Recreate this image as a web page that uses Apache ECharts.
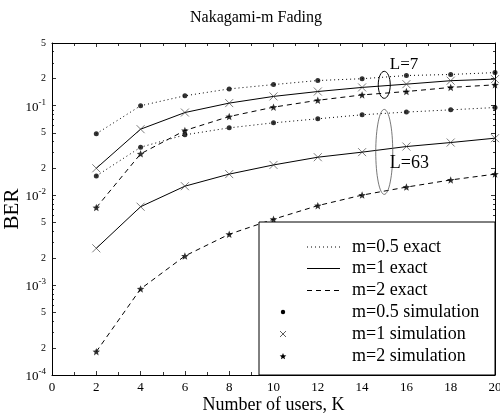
<!DOCTYPE html>
<html>
<head>
<meta charset="utf-8">
<script src="https://cdn.jsdelivr.net/npm/echarts@6/dist/echarts.min.js"></script>
<style>html,body{margin:0;padding:0;background:#fff}#c{width:500px;height:415px}</style>
</head>
<body>
<div id="c"></div>
<script>
// ---- data ----
const users = [2, 4, 6, 8, 10, 12, 14, 16, 18, 20];
const m05_L7  = [0.0487, 0.100, 0.129, 0.154, 0.172, 0.191, 0.200, 0.217, 0.223, 0.234];
const m1_L7   = [0.0201, 0.0548, 0.084, 0.107, 0.127, 0.144, 0.160, 0.174, 0.190, 0.198];
const m2_L7   = [0.00733, 0.0291, 0.053, 0.0758, 0.0964, 0.115, 0.132, 0.144, 0.160, 0.171];
const m05_L63 = [0.0165, 0.0345, 0.0474, 0.0567, 0.0645, 0.0715, 0.0793, 0.085, 0.090, 0.0955];
const m1_L63  = [0.00258, 0.0075, 0.0127, 0.0173, 0.0219, 0.0267, 0.0304, 0.0351, 0.0389, 0.0435];
const m2_L63  = [0.000182, 0.00091, 0.00212, 0.0037, 0.00544, 0.00771, 0.0101, 0.0124, 0.0149, 0.0173];
const xTicks = [0, 2, 4, 6, 8, 10, 12, 14, 16, 18, 20];
const yDecades = [-4, -3, -2, -1];
const yMin = 1e-4, yMax = 0.5;
const legendNames = ['m=0.5 exact', 'm=1 exact', 'm=2 exact', 'm=0.5 simulation', 'm=1 simulation', 'm=2 simulation'];
const titleText = 'Nakagami-m Fading';
const xName = 'Number of users, K';
const yName = 'BER';

const FONT = '"Liberation Serif", "Times New Roman", serif';
const lg = Math.log10;
const pts = arr => users.map((k, i) => [k, lg(arr[i])]);

// y ticks in log space
const majorVals = [], minorVals = [];
yDecades.forEach(d => {
  majorVals.push(d, d + lg(2), d + lg(5));
  [3, 4, 6, 7, 8, 9].forEach(k => minorVals.push(d + lg(k)));
});
majorVals.push(lg(yMax));
const yLo = lg(yMin), yHi = lg(yMax);

const starPath = 'path://M0,-10L2.6,-3.5L9.5,-3.1L4.2,1.3L5.9,8.1L0,4.3L-5.9,8.1L-4.2,1.3L-9.5,-3.1L-2.6,-3.5Z';
const crossPath = 'path://M0,0L10,10M10,0L0,10';

function yLab(v) {
  const e = Math.floor(v + 1e-6);
  const mant = Math.round(Math.pow(10, v - e));
  if (mant === 1) return '{b|10}{s|' + e + '}';
  return '{m|' + mant + '}';
}

const baseY = (pos, vals, len, labels) => ({
  type: 'value', min: yLo, max: yHi, position: pos, gridIndex: 0,
  splitLine: { show: false },
  axisLine: { show: labels, onZero: false, lineStyle: { color: '#000', width: 1 } },
  axisTick: { show: true, inside: true, length: len, customValues: vals, lineStyle: { color: '#000', width: 0.8 } },
  axisLabel: labels ? {
    show: true, customValues: majorVals, formatter: yLab, margin: 6,
    fontFamily: FONT, color: '#000',
    rich: {
      b: { fontSize: 13, fontFamily: FONT, color: '#000', verticalAlign: 'bottom', lineHeight: 16 },
      s: { fontSize: 9, fontFamily: FONT, color: '#000', verticalAlign: 'top', lineHeight: 16 },
      m: { fontSize: 10, fontFamily: FONT, color: '#000' }
    }
  } : { show: false }
});

const lineSeries = (name, arr, type) => ({
  name, type: 'line', data: pts(arr), showSymbol: false, symbol: 'none',
  lineStyle: { color: '#000', width: 1, type }, z: 2, silent: true
});

const chart = echarts.init(document.getElementById('c'), null, { renderer: 'canvas' });
chart.setOption({
  animation: false,
  backgroundColor: '#fff',
  title: {
    text: titleText, left: 185, top: 5,
    textStyle: { fontFamily: FONT, fontSize: 16, fontWeight: 'normal', color: '#000' }
  },
  grid: { left: 52, right: 5, top: 43, bottom: 40, containLabel: false, outerBoundsMode: 'none' },
  xAxis: [
    {
      type: 'value', min: 0, max: 20, interval: 2, position: 'bottom',
      name: xName, nameLocation: 'middle', nameGap: 21, nameMoveOverlap: false,
      nameTextStyle: { fontFamily: FONT, fontSize: 18, color: '#000' },
      splitLine: { show: false },
      axisLine: { onZero: false, lineStyle: { color: '#000', width: 1 } },
      axisTick: { inside: true, length: 4, lineStyle: { color: '#000', width: 0.8 } },
      minorTick: { show: true, splitNumber: 2, length: 3, lineStyle: { color: '#000', width: 0.8 } },
      axisLabel: { fontFamily: FONT, fontSize: 13, color: '#000', margin: 6 }
    },
    {
      type: 'value', min: 0, max: 20, interval: 2, position: 'top',
      splitLine: { show: false },
      axisLine: { onZero: false, lineStyle: { color: '#000', width: 1 } },
      axisTick: { inside: true, length: 4, lineStyle: { color: '#000', width: 0.8 } },
      minorTick: { show: true, splitNumber: 2, length: 3, lineStyle: { color: '#000', width: 0.8 } },
      axisLabel: { show: false }
    }
  ],
  yAxis: [
    Object.assign(baseY('left', majorVals, 4, true), {
      name: yName, nameLocation: 'middle', nameGap: 29, nameRotate: 90, nameMoveOverlap: false,
      nameTextStyle: { fontFamily: FONT, fontSize: 21, color: '#000' }
    }),
    baseY('left', minorVals, 2, false),
    Object.assign(baseY('right', majorVals, 4, false), { axisLine: { show: true, onZero: false, lineStyle: { color: '#000', width: 1 } } }),
    baseY('right', minorVals, 2, false)
  ],
  series: [
    lineSeries(legendNames[0], m05_L7, [1, 3]),
    lineSeries(legendNames[0], m05_L63, [1, 3]),
    lineSeries(legendNames[1], m1_L7, 'solid'),
    lineSeries(legendNames[1], m1_L63, 'solid'),
    lineSeries(legendNames[2], m2_L7, [5, 4]),
    lineSeries(legendNames[2], m2_L63, [5, 4]),
    {
      name: legendNames[3], type: 'scatter', data: pts(m05_L7).concat(pts(m05_L63)),
      symbol: 'circle', symbolSize: 5, itemStyle: { color: '#000' }, z: 3, silent: true
    },
    {
      name: legendNames[4], type: 'scatter', data: pts(m1_L7).concat(pts(m1_L63)),
      symbol: crossPath, symbolSize: 8,
      itemStyle: { color: 'rgba(0,0,0,0)', borderColor: '#333', borderWidth: 0.8 }, z: 3, silent: true
    },
    {
      name: legendNames[5], type: 'scatter', data: pts(m2_L7).concat(pts(m2_L63)),
      symbol: starPath, symbolSize: 7.5, itemStyle: { color: '#000' }, z: 3, silent: true
    }
  ]
});

// ---- annotations & legend (graphic) ----
const px = (x, v) => chart.convertToPixel({ gridIndex: 0 }, [x, lg(v)]);
const c7 = px(15, 0.171);
const c63 = px(15, 0.0306);
const t7 = px(15.25, 0.286);
const t63 = px(15.25, 0.0231);
const txt = (x, y, s, size) => ({
  type: 'text', x, y, z: 20,
  style: { text: s, fontFamily: FONT, fontSize: size, fill: '#000', verticalAlign: 'middle', align: 'left' }
});

const boxL = 259, boxT = 222, boxR = 495, boxB = 375;
const rowY = [247, 268.5, 290.5, 312, 334, 356.5];
const g = [
  { type: 'ellipse', z: 15, shape: { cx: c7[0], cy: c7[1], rx: 6, ry: 13.5 }, style: { fill: 'none', stroke: '#000', lineWidth: 1 } },
  { type: 'ellipse', z: 15, shape: { cx: c63[0], cy: c63[1], rx: 8.5, ry: 42.5 }, style: { fill: 'none', stroke: '#555', lineWidth: 0.8 } },
  txt(t7[0], t7[1], 'L=7', 17),
  txt(t63[0], t63[1], 'L=63', 18),
  { type: 'rect', z: 30, shape: { x: boxL, y: boxT, width: boxR - boxL, height: boxB - boxT }, style: { fill: '#fff', stroke: '#000', lineWidth: 1 } },
  { type: 'line', z: 31, shape: { x1: 307, y1: rowY[0], x2: 340, y2: rowY[0] }, style: { stroke: '#000', lineWidth: 1, lineDash: [1, 3] } },
  { type: 'line', z: 31, shape: { x1: 307, y1: rowY[1], x2: 340, y2: rowY[1] }, style: { stroke: '#000', lineWidth: 1 } },
  { type: 'line', z: 31, shape: { x1: 307, y1: rowY[2], x2: 340, y2: rowY[2] }, style: { stroke: '#000', lineWidth: 1, lineDash: [5, 4] } },
  { type: 'circle', z: 31, shape: { cx: 283, cy: rowY[3], r: 2.2 }, style: { fill: '#000' } },
  { type: 'polyline', z: 31, shape: { points: [[280, rowY[4] - 3], [286, rowY[4] + 3]] }, style: { stroke: '#333', lineWidth: 0.8 } },
  { type: 'polyline', z: 31, shape: { points: [[286, rowY[4] - 3], [280, rowY[4] + 3]] }, style: { stroke: '#333', lineWidth: 0.8 } },
  { type: 'polygon', z: 31, shape: { points: [[0,-10],[2.6,-3.5],[9.5,-3.1],[4.2,1.3],[5.9,8.1],[0,4.3],[-5.9,8.1],[-4.2,1.3],[-9.5,-3.1],[-2.6,-3.5]].map(p => [283 + p[0] * 0.35, rowY[5] + p[1] * 0.35]) }, style: { fill: '#000' } }
];
legendNames.forEach((n, i) => {
  const t = txt(352, rowY[i], n, 18); t.z = 32; g.push(t);
});
chart.setOption({ graphic: g });
</script>
</body>
</html>
